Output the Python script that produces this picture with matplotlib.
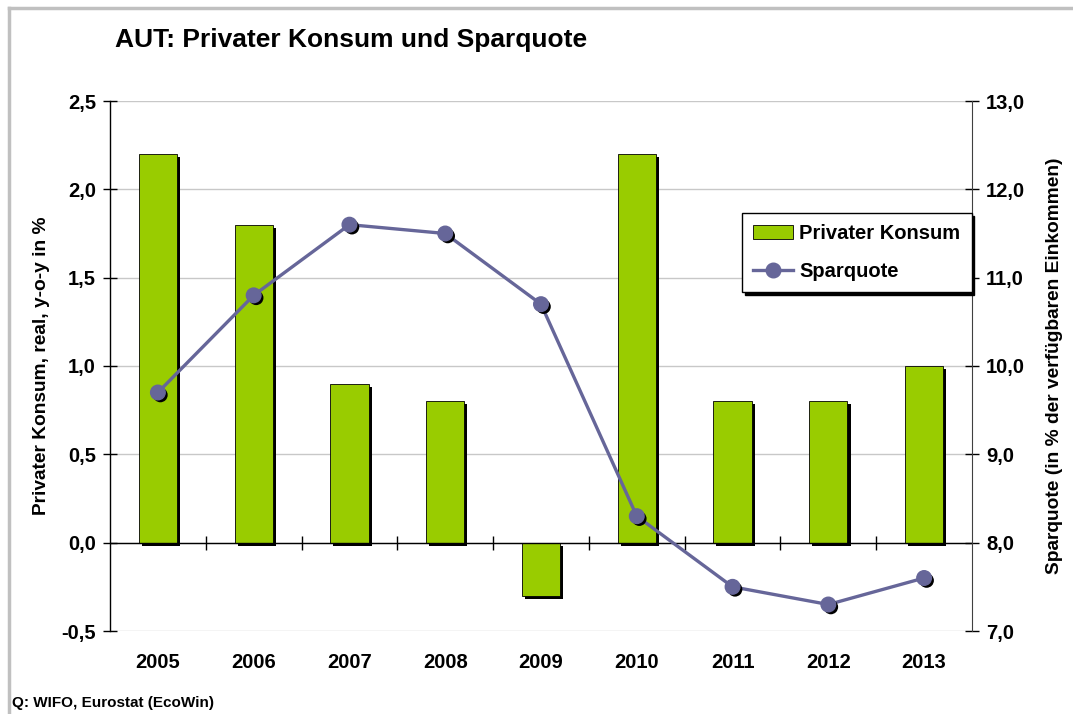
import matplotlib
matplotlib.use("Agg")
import matplotlib.pyplot as plt
import matplotlib.patheffects as pe
from matplotlib.lines import Line2D
import numpy as np

years = ["2005", "2006", "2007", "2008", "2009", "2010", "2011", "2012", "2013"]
konsum = [2.2, 1.8, 0.9, 0.8, -0.3, 2.2, 0.8, 0.8, 1.0]
sparquote = [9.7, 10.8, 11.6, 11.5, 10.7, 8.3, 7.5, 7.3, 7.6]
left_ticks = [-0.5, 0.0, 0.5, 1.0, 1.5, 2.0, 2.5]
right_ticks = [7.0, 8.0, 9.0, 10.0, 11.0, 12.0, 13.0]

plt.rcParams['font.family'] = ['Liberation Sans', 'DejaVu Sans']
plt.rcParams['font.weight'] = 'bold'

BAR = "#99CC00"
LINE = "#666699"
TICKFS = 14.5

fig = plt.figure(figsize=(10.73, 7.14), dpi=100)
ax = fig.add_axes([110/1073, 1-631/714, (972-110)/1073, (631-101)/714])
ax2 = ax.twinx()
ax.set_zorder(1)
ax2.set_zorder(2)
ax.patch.set_visible(False)

x = np.arange(len(years))
shadow = [pe.SimplePatchShadow(offset=(2.2, -2.2), shadow_rgbFace='black', alpha=1.0), pe.Normal()]
bars = ax.bar(x, konsum, width=0.4, color=BAR, edgecolor='black', linewidth=0.6,
              path_effects=shadow, zorder=3)

ax.set_xlim(-0.5, len(years)-0.5)
ax.set_ylim(-0.5, 2.5)
ax.set_yticks(left_ticks)
ax.set_yticklabels([f"{v:.1f}".replace('.', ',') for v in left_ticks], fontsize=TICKFS, fontweight='bold')
ax.yaxis.grid(True, color='#c8c8c8', linewidth=1.0, zorder=0)
ax.set_axisbelow(True)
ax.tick_params(axis='y', direction='inout', length=10, width=1, pad=5)
ax.set_xticks(x)
ax.set_xticklabels(years, fontsize=TICKFS, fontweight='bold')
ax.tick_params(axis='x', length=0, pad=16)
ax.axhline(0, color='black', linewidth=1.0, zorder=4)
ax.vlines(x[:-1] + 0.5, -0.04, 0.04, color='black', linewidth=1.0, zorder=4)
for s in ['top', 'bottom', 'right']:
    ax.spines[s].set_visible(False)
ax.spines['left'].set_linewidth(1.0)
ax.set_ylabel("Privater Konsum, real, y-o-y in %", fontsize=13.8, fontweight='bold', labelpad=8)

ax2.plot(x, sparquote, color=LINE, linewidth=2.4, zorder=5)
mshadow = [pe.SimplePatchShadow(offset=(1.8, -1.8), shadow_rgbFace='black', alpha=1.0), pe.Normal()]
ax2.plot(x, sparquote, linestyle='none', marker='o', markersize=10.5, color=LINE,
         markeredgecolor=LINE, path_effects=mshadow, zorder=6)
ax2.set_ylim(7.0, 13.0)
ax2.set_yticks(right_ticks)
ax2.set_yticklabels([f"{v:.1f}".replace('.', ',') for v in right_ticks], fontsize=TICKFS, fontweight='bold')
ax2.tick_params(axis='y', direction='inout', length=10, width=1, pad=5)
for s in ['top', 'bottom', 'left']:
    ax2.spines[s].set_visible(False)
ax2.spines['right'].set_color('#404040')
ax2.set_ylabel("Sparquote (in % der verfügbaren Einkommen)", fontsize=13.8, fontweight='bold', labelpad=15)

handles = [plt.Rectangle((0, 0), 1, 1, facecolor=BAR, edgecolor='black', linewidth=0.6),
           Line2D([0], [0], color=LINE, linewidth=2.4, marker='o', markersize=10.5)]
leg = fig.legend(handles, ["Privater Konsum", "Sparquote"], loc='upper left',
                 bbox_to_anchor=(742/1073, 1-213/714), borderaxespad=0, frameon=True, fancybox=False,
                 shadow={'color': 'black', 'alpha': 1.0}, edgecolor='black',
                 prop={'size': 14.5, 'weight': 'bold'}, handlelength=2.0,
                 handletextpad=0.3, borderpad=0.55, labelspacing=0.95)
leg.get_frame().set_linewidth(1.0)
leg.set_zorder(10)

fig.text(115/1073, 1-47/714, "AUT: Privater Konsum und Sparquote", fontsize=19,
         fontweight='bold', ha='left', va='baseline')
fig.text(12/1073, 1-707/714, "Q: WIFO, Eurostat (EcoWin)", fontsize=11,
         fontweight='bold', ha='left', va='baseline')

fig.add_artist(Line2D([9/1073, 9/1073], [0, 1-8/714], color='#c0c0c0', linewidth=2.5,
                      transform=fig.transFigure))
fig.add_artist(Line2D([9/1073, 1], [1-8/714, 1-8/714], color='#c0c0c0', linewidth=2.5,
                      transform=fig.transFigure))

fig.savefig("out.png", dpi=100)
